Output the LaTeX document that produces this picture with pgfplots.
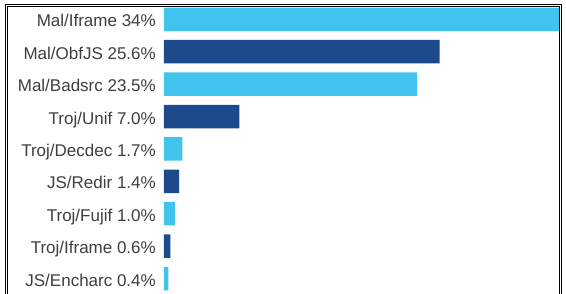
\documentclass[border=0pt]{standalone}
\usepackage{pgfplots}
\pgfplotsset{compat=1.18}
\usepackage{fontspec}
\setmainfont{Liberation Sans}
\definecolor{lightbar}{RGB}{64,196,238}
\definecolor{darkbar}{RGB}{28,74,140}
\definecolor{labelgray}{RGB}{62,62,62}
\begin{document}
\begin{tikzpicture}
\begin{axis}[
  at={(164pt,0pt)}, anchor=south west,
  scale only axis, width=402pt, height=293pt,
  xmin=0, xmax=37.326,
  ymin=-0.5957, ymax=8.4475, y dir=reverse,
  xbar, bar width=23.5pt,
  axis line style={draw=none},
  major tick length=0pt,
  xtick=\empty,
  ytick={0,1,2,3,4,5,6,7,8},
  yticklabels={Mal/Iframe 34\%, Mal/ObfJS 25.6\%, Mal/Badsrc 23.5\%, Troj/Unif 7.0\%, Troj/Decdec 1.7\%, JS/Redir 1.4\%, Troj/Fujif 1.0\%, Troj/Iframe 0.6\%, JS/Encharc 0.4\%},
  yticklabel style={font=\fontsize{17}{17}\selectfont, text=labelgray, inner sep=0pt, anchor=base east, xshift=-8pt, yshift=-7.5pt},
  clip=false,
]
\addplot[fill=lightbar, draw=none, bar shift=0pt] coordinates {(36.68,0) (23.5,2) (1.7,4) (1.0,6) (0.4,8)};
\addplot[fill=darkbar, draw=none, bar shift=0pt] coordinates {(25.6,1) (7.0,3) (1.4,5) (0.6,7)};
\end{axis}
\draw[line width=1pt, black] (5pt,-10pt) -- (5pt,288.3pt) -- (561pt,288.3pt) -- (561pt,-10pt);
\draw[line width=1pt, black] (7pt,-10pt) -- (7pt,286.3pt) -- (559pt,286.3pt) -- (559pt,-10pt);
\pgfresetboundingbox
\useasboundingbox (0,0) rectangle (566pt,293pt);
\end{tikzpicture}
\end{document}
